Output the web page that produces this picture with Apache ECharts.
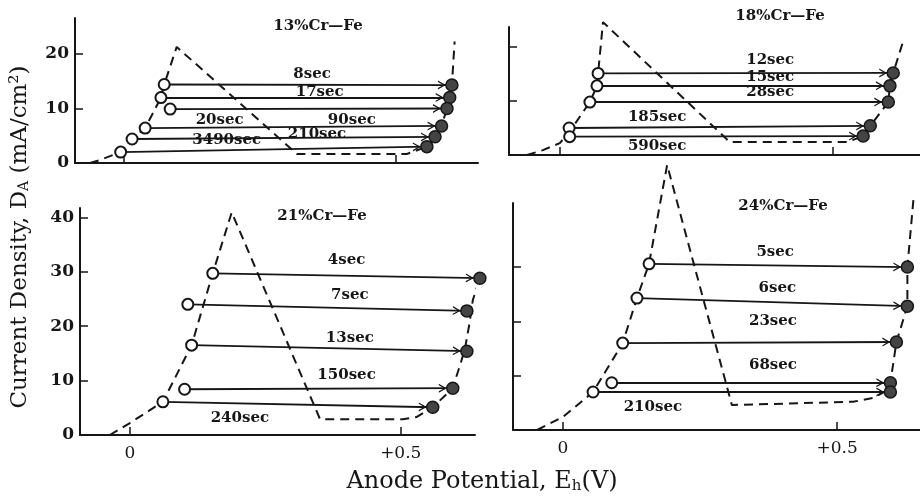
<!DOCTYPE html>
<html><head><meta charset="utf-8">
<script src="https://cdn.jsdelivr.net/npm/echarts@6/dist/echarts.min.js"></script>
<style>html,body{margin:0;padding:0;background:#fff}#c{width:920px;height:499px}</style>
</head><body><div id="c"></div>
<script>
// ---------- DATA ----------
// 13% Cr-Fe
const curve13 = [[-0.0625,0],[-0.044,0.55],[-0.006,2.0],[0.015,4.4],[0.039,6.4],[0.068,12.0],[0.074,14.4],[0.097,21.3],[0.318,1.65],[0.52,1.65],[0.557,3.0],[0.572,4.8],[0.584,6.8],[0.594,10.0],[0.599,12.0],[0.603,14.3],[0.608,22.3]];
const open13 = [[0.074,14.4],[0.068,12.0],[0.085,9.9],[0.039,6.4],[0.015,4.4],[-0.006,2.0]];
const closed13 = [[0.603,14.3],[0.599,12.0],[0.594,10.0],[0.584,6.8],[0.572,4.8],[0.557,3.0]];
const labels13 = [[0.346,16.3,'8sec'],[0.360,13.0,'17sec'],[0.176,7.9,'20sec'],[0.419,7.9,'90sec'],[0.355,5.3,'210sec'],[0.189,4.2,'3490sec']];
// 18% Cr-Fe
const curve18 = [[-0.060,0],[-0.031,0.9],[0.0,2.2],[0.017,4.2],[0.055,9.8],[0.068,12.8],[0.070,15.1],[0.079,24.6],[0.311,2.4],[0.526,2.4],[0.555,3.5],[0.568,5.4],[0.601,9.8],[0.604,12.8],[0.610,15.2],[0.628,21.0]];
const open18 = [[0.070,15.1],[0.068,12.8],[0.055,9.8],[0.017,5.0],[0.018,3.4]];
const closed18 = [[0.610,15.2],[0.604,12.8],[0.601,9.8],[0.568,5.4],[0.555,3.5]];
const labels18 = [[0.385,17.6,'12sec'],[0.385,14.4,'15sec'],[0.385,11.7,'28sec'],[0.178,7.0,'185sec'],[0.178,1.7,'590sec']];
// 21% Cr-Fe
const curve21 = [[-0.037,0],[0,2.2],[0.061,6.1],[0.114,16.5],[0.153,29.7],[0.188,40.9],[0.351,2.9],[0.504,2.9],[0.529,3.3],[0.559,5.1],[0.596,8.6],[0.618,15.6],[0.627,20.6],[0.633,24.8],[0.646,28.8],[0.668,36.1]];
const open21 = [[0.153,29.7],[0.107,24.0],[0.114,16.5],[0.101,8.4],[0.061,6.1]];
const closed21 = [[0.646,28.8],[0.622,22.8],[0.622,15.4],[0.596,8.6],[0.559,5.1]];
const labels21 = [[0.400,32.1,'4sec'],[0.406,25.7,'7sec'],[0.406,17.8,'13sec'],[0.400,11.0,'150sec'],[0.203,3.1,'240sec']];
// 24% Cr-Fe
const curve24 = [[-0.047,0],[0,2.4],[0.055,7.0],[0.109,16.0],[0.135,24.3],[0.157,30.6],[0.190,48.8],[0.308,4.6],[0.529,5.2],[0.566,5.9],[0.593,7.4],[0.597,8.7],[0.608,16.2],[0.628,22.8],[0.628,30.0],[0.639,42.4]];
const open24 = [[0.157,30.6],[0.135,24.3],[0.109,16.0],[0.089,8.7],[0.055,7.0]];
const closed24 = [[0.628,30.0],[0.628,22.8],[0.608,16.2],[0.597,8.7],[0.597,7.0]];
const labels24 = [[0.387,32.8,'5sec'],[0.391,26.2,'6sec'],[0.383,20.0,'23sec'],[0.383,12.0,'68sec'],[0.164,4.2,'210sec']];

const titles = ['13%Cr—Fe','18%Cr—Fe','21%Cr—Fe','24%Cr—Fe'];
const xTickValues = [0, 0.5];
const xTickLabels = ['0', '+0.5'];
const yTicks13 = [0,10,20], yTicks18 = [10,20], yTicks21 = [0,10,20,30,40], yTicks24 = [10,20,30];

// ---------- LAYOUT ----------
const SERIF = "'DejaVu Serif','Liberation Serif',serif";
const INK = '#161616';
const panels = [
  {grid:{left:75,top:18,width:403,height:145}, xMin:-0.090, xMax:0.651, yMax:26.6, yTicks:yTicks13, yLab:true, xLab:false, curve:curve13, open:open13, closed:closed13, labels:labels13, title:titles[0], tpos:[318,26]},
  {grid:{left:509,top:27,width:411,height:128}, xMin:-0.093, xMax:0.659, yMax:23.7, yTicks:yTicks18, yLab:false, xLab:false, curve:curve18, open:open18, closed:closed18, labels:labels18, title:titles[1], tpos:[780,16]},
  {grid:{left:80,top:208,width:395,height:227}, xMin:-0.092, xMax:0.637, yMax:41.7, yTicks:yTicks21, yLab:true, xLab:true, curve:curve21, open:open21, closed:closed21, labels:labels21, title:titles[2], tpos:[322,216]},
  {grid:{left:513,top:203,width:407,height:227}, xMin:-0.091, xMax:0.651, yMax:41.8, yTicks:yTicks24, yLab:false, xLab:true, curve:curve24, open:open24, closed:closed24, labels:labels24, title:titles[3], tpos:[783,206]}
];

// open chevron pointing "up" inside a 32x32 box; tiny corner dots fix the box so the tip stops at the circle edge
const chevron = 'path://M16,0 L16.05,0 L16,0.05 Z M0,16 L0.05,16 L0,16.05 Z M32,16 L31.95,16 L32,16.05 Z M16,32 L16.05,32 L16,31.95 Z ' +
                'M11.5,30 L16,22 L20.5,30 L19.1,30 L16,24.6 L12.9,30 Z';

const grid = [], xAxis = [], yAxis = [], series = [], graphic = [];
panels.forEach((p, i) => {
  grid.push(Object.assign({containLabel:false}, p.grid));
  xAxis.push({
    type:'value', gridIndex:i, min:p.xMin, max:p.xMax,
    axisLine:{show:true, onZero:false, lineStyle:{color:INK, width:2}},
    splitLine:{show:false},
    axisTick:{show:true, inside:true, length:8, customValues:xTickValues, lineStyle:{color:INK, width:1.5}},
    axisLabel:{show:p.xLab, customValues:xTickValues, margin:10, color:INK, fontFamily:SERIF, fontSize:17,
      formatter:v => xTickLabels[xTickValues.indexOf(v)] ?? ''}
  });
  yAxis.push({
    type:'value', gridIndex:i, min:0, max:p.yMax,
    axisLine:{show:true, onZero:false, lineStyle:{color:INK, width:2}},
    splitLine:{show:false},
    axisTick:{show:true, inside:true, length:8, customValues:p.yTicks, lineStyle:{color:INK, width:1.5}},
    axisLabel:{show:p.yLab, customValues:p.yTicks, margin:6, color:INK, fontFamily:SERIF, fontSize:17, fontWeight:'bold'}
  });
  series.push({
    type:'line', xAxisIndex:i, yAxisIndex:i, data:p.curve, showSymbol:false, clip:false, silent:true, z:2,
    lineStyle:{color:INK, width:2, type:[9,6]}
  });
  series.push({
    type:'lines', coordinateSystem:'cartesian2d', xAxisIndex:i, yAxisIndex:i, silent:true, z:3, clip:false,
    symbol:['none', chevron], symbolSize:32,
    lineStyle:{color:INK, width:1.8, opacity:1, curveness:0},
    data:p.open.map((o, k) => ({coords:[o, p.closed[k]]}))
  });
  series.push({
    type:'scatter', xAxisIndex:i, yAxisIndex:i, data:p.open, symbolSize:11, clip:false, silent:true, z:5,
    itemStyle:{color:'#fff', borderColor:INK, borderWidth:2, opacity:1}
  });
  series.push({
    type:'scatter', xAxisIndex:i, yAxisIndex:i, data:p.closed, symbolSize:12, clip:false, silent:true, z:5,
    itemStyle:{color:'#444', borderColor:INK, borderWidth:1.5, opacity:1}
  });
  series.push({
    type:'scatter', xAxisIndex:i, yAxisIndex:i, data:p.labels, symbolSize:0, clip:false, silent:true, z:6,
    itemStyle:{opacity:1},
    label:{show:true, position:'inside', formatter:q => q.value[2], color:INK, fontFamily:SERIF, fontSize:15, fontWeight:'bold'}
  });
  graphic.push({type:'text', x:p.tpos[0], y:p.tpos[1], silent:true,
    style:{text:p.title, fill:INK, font:"bold 15px " + SERIF, align:'center', verticalAlign:'middle'}});
});

graphic.push({type:'text', x:20, y:237, rotation:Math.PI/2, silent:true,
  style:{text:'{a|Current Density, D}{s|A}{a| (mA/cm²)}', align:'center', verticalAlign:'middle', fill:INK,
    rich:{a:{fontFamily:SERIF, fontSize:23, fill:INK, lineHeight:28}, s:{fontFamily:SERIF, fontSize:14, fill:INK, lineHeight:28, padding:[9,0,0,0]}}}});
graphic.push({type:'text', x:482, y:482, silent:true,
  style:{text:'{a|Anode Potential, E}{s|h}{a|(V)}', align:'center', verticalAlign:'middle', fill:INK,
    rich:{a:{fontFamily:SERIF, fontSize:24, fill:INK, lineHeight:28}, s:{fontFamily:SERIF, fontSize:15, fill:INK, lineHeight:28, padding:[9,0,0,0]}}}});

const chart = echarts.init(document.getElementById('c'), null, {renderer:'canvas'});
chart.setOption({animation:false, backgroundColor:'#fff', grid, xAxis, yAxis, series, graphic});
</script></body></html>
